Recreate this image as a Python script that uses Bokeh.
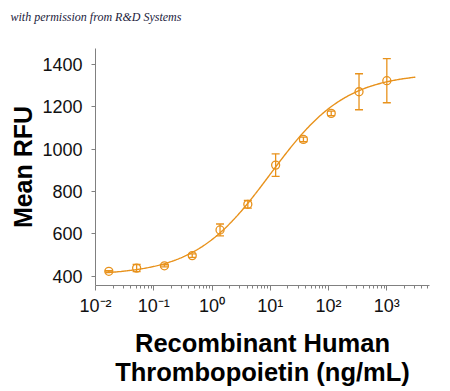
import numpy as np
from bokeh.plotting import figure
from bokeh.models import (ColumnDataSource, Whisker, TeeHead, FixedTicker,
                          CustomJSTickFormatter, Title)
from bokeh.embed import file_html
from bokeh.resources import INLINE

# ---- data ----
conc = [0.01694, 0.0508, 0.1524, 0.4572, 1.372, 4.115, 12.35, 37.04, 111.1, 333.3, 1000.0]
mean_rfu = [424, 439, 450, 498, 619, 740, 925, 1046, 1169, 1271, 1323]
sd_rfu = [3, 17, 5, 8, 28, 18, 53, 11, 11, 85, 104]

# 4-parameter logistic fit parameters (estimated from the drawn curve)
fit_bottom = 405
fit_top = 1360
fit_ec50 = 10.0
fit_hill = 0.668
fit_x_min = 0.0148
fit_x_max = 3085.0

x_ticks = [0.01, 0.1, 1, 10, 100, 1000]
y_ticks = [400, 600, 800, 1000, 1200, 1400]

ORANGE = "#E8921C"

curve_x = np.logspace(np.log10(fit_x_min), np.log10(fit_x_max), 300)
curve_y = fit_bottom + (fit_top - fit_bottom) / (1 + (fit_ec50 / curve_x) ** fit_hill)

p = figure(width=450, height=391, x_axis_type="log",
           x_range=(0.01, 5400), y_range=(357, 1475),
           output_backend="svg", toolbar_location=None,
           min_border_left=95, min_border_right=21,
           min_border_top=48, min_border_bottom=106)

p.outline_line_color = None
p.xgrid.visible = False
p.ygrid.visible = False

# spacer between the watermark and the plot frame
p.add_layout(Title(text=" ", text_font_size="1px", standoff=20), "above")

p.title.text = "with permission from R&D Systems"
p.title.align = "left"
p.title.vertical_align = "bottom"
p.title.offset = -85
p.title.standoff = 4
p.title.text_font = "Liberation Serif"
p.title.text_font_style = "italic"
p.title.text_font_size = "12px"
p.title.text_color = "#1c1c3c"

p.line(curve_x, curve_y, line_color=ORANGE, line_width=1.4)

src = ColumnDataSource(dict(x=conc, y=mean_rfu,
                            lo=[m - s for m, s in zip(mean_rfu, sd_rfu)],
                            hi=[m + s for m, s in zip(mean_rfu, sd_rfu)]))
w = Whisker(source=src, base="x", lower="lo", upper="hi",
            line_color=ORANGE, line_width=1.3,
            upper_head=TeeHead(size=8, line_color=ORANGE, line_width=1.3),
            lower_head=TeeHead(size=8, line_color=ORANGE, line_width=1.3))
p.add_layout(w)
p.scatter("x", "y", source=src, size=8, marker="circle", fill_color=None,
          line_color=ORANGE, line_width=1.3)

AX = "#808080"
for ax in (p.xaxis[0], p.yaxis[0]):
    ax.axis_line_color = AX
    ax.major_tick_line_color = AX
    ax.minor_tick_line_color = AX
    ax.major_tick_in = 0
    ax.minor_tick_in = 0
    ax.major_label_text_font = "Liberation Sans"
    ax.major_label_text_font_size = "18px"
    ax.major_label_text_color = "#111111"
    ax.axis_label_text_font = "Liberation Sans"
    ax.axis_label_text_font_style = "bold"
    ax.axis_label_text_color = "#000000"

p.xaxis[0].ticker = FixedTicker(ticks=x_ticks,
                                minor_ticks=[m * 10 ** e for e in range(-2, 4) for m in range(2, 10)])
p.xaxis.formatter = CustomJSTickFormatter(code="""
const sup = {'-2':'\u207b\u00b2','-1':'\u207b\u00b9','0':'\u2070','1':'\u00b9','2':'\u00b2','3':'\u00b3'};
const e = Math.round(Math.log10(tick));
return '10' + sup[String(e)];
""")
p.xaxis.major_tick_out = 5
p.xaxis.minor_tick_out = 3
p.xaxis.major_label_standoff = 5
p.xaxis.axis_label = "Recombinant Human\nThrombopoietin (ng/mL)"
p.xaxis.axis_label_text_font_size = "25.5px"
p.xaxis.axis_label_text_line_height = 1.05
p.xaxis.axis_label_standoff = 10

p.yaxis.ticker = FixedTicker(ticks=y_ticks, minor_ticks=[])
p.yaxis.major_tick_out = 4
p.yaxis.minor_tick_out = 0
p.yaxis.major_label_standoff = 9
p.yaxis.axis_label = "Mean RFU"
p.yaxis.axis_label_text_font_size = "25px"
p.yaxis.axis_label_standoff = 2

open("out.html", "w").write(file_html(p, INLINE))
